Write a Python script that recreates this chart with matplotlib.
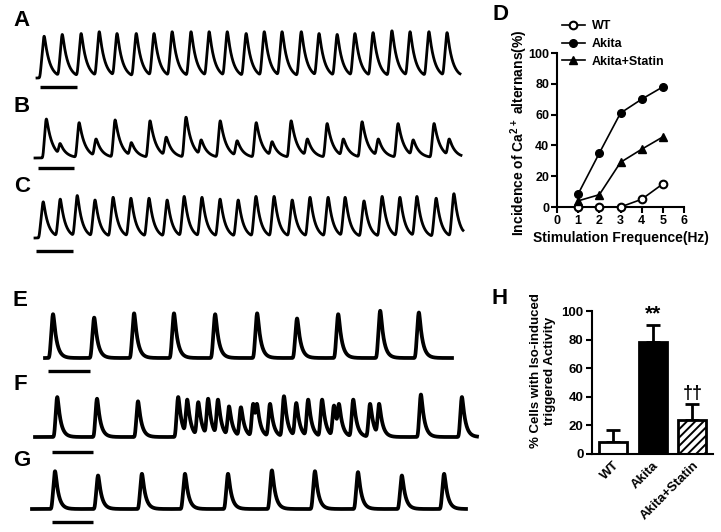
"""
Ca2+ transient traces (A-C, E-G), alternans incidence vs. frequency (D)
and Iso-induced triggered activity (H).
"""
import matplotlib
matplotlib.use('Agg')
import matplotlib.pyplot as plt
import numpy as np

plt.rcParams['font.family'] = ['Liberation Sans', 'DejaVu Sans']
plt.rcParams['font.weight'] = 'bold'
plt.rcParams['axes.labelweight'] = 'bold'
plt.rcParams['mathtext.fontset'] = 'custom'
plt.rcParams['mathtext.bf'] = 'Liberation Sans:bold'
plt.rcParams['mathtext.rm'] = 'Liberation Sans:bold'
plt.rcParams['mathtext.default'] = 'bf'
plt.rcParams['hatch.linewidth'] = 1.4

W, H = 721, 532

# ─── data ───────────────────────────────────────────────────────────────────
# traces: peak times (s) and peak amplitudes (arbitrary fluorescence units)
A_TIMES = [0.19, 0.68, 1.19, 1.68, 2.16, 2.68, 3.16, 3.65, 4.16, 4.65, 5.14, 5.65,
           6.14, 6.62, 7.14, 7.62, 8.11, 8.59, 9.08, 9.59, 10.08, 10.59, 11.08]
A_AMPS = [46, 48, 49, 51, 49, 49, 49, 51, 51, 51, 51, 49,
          51, 51, 51, 49, 48, 49, 50, 52, 51, 51, 50]

B_TIMES = [0.31, 0.69, 1.22, 1.69, 2.22, 2.67, 3.19, 3.64, 4.19, 4.61, 5.14, 5.61,
           6.14, 6.58, 7.11, 7.56, 8.11, 8.56, 9.08, 9.53, 10.08, 10.50, 11.08, 11.50]
B_AMPS = [43, 16, 39, 21, 42, 17, 41, 23, 45, 20, 41, 19,
          39, 18, 41, 21, 38, 21, 40, 21, 38, 20, 38, 21]

C_TIMES = [0.22, 0.68, 1.14, 1.62, 2.11, 2.59, 3.08, 3.57, 4.03, 4.51, 5.00, 5.49,
           5.97, 6.46, 6.95, 7.43, 7.92, 8.38, 8.89, 9.38, 9.86, 10.32, 10.84, 11.32]
C_AMPS = [40, 43, 47, 42, 45, 44, 44, 42, 46, 45, 43, 42,
          46, 46, 42, 45, 45, 45, 41, 46, 45, 46, 44, 49]

E_TIMES = [0.19, 1.17, 2.12, 3.07, 4.05, 5.05, 6.00, 6.98, 7.98, 8.90]
E_AMPS = [51, 47, 52, 52, 51, 52, 46, 51, 55, 53]

F_TIMES = [0.54, 1.51, 2.51, 3.49, 3.71, 3.98, 4.22, 4.46, 4.73, 5.02, 5.32, 5.41,
           5.73, 6.07, 6.37, 6.66, 7.00, 7.29, 7.41, 7.76, 8.17, 8.39, 9.41, 10.41]
F_AMPS = [47, 45, 42, 47, 44, 41, 45, 44, 36, 35, 39, 39,
          39, 48, 40, 44, 44, 37, 39, 44, 39, 39, 50, 47]

G_TIMES = [0.56, 1.61, 2.68, 3.73, 4.78, 5.85, 6.90, 7.95, 9.02, 10.05]
G_AMPS = [44, 39, 41, 41, 41, 45, 44, 43, 39, 41]

# panel D
FREQ = [1, 2, 3, 4, 5]
WT_ALT = [0, 0, 0, 5, 15]
AKITA_ALT = [8.5, 35, 61, 70, 78]
STATIN_ALT = [4, 8, 29, 37.5, 45.5]

# panel H
GROUPS = ['WT', 'Akita', 'Akita+Statin']
TRIG = [8.5, 78.5, 23.5]
TRIG_ERR = [8.2, 12.0, 11.8]


# ─── layout (pixels) ────────────────────────────────────────────────────────
# name: x_start, x_end, baseline_y, px_per_s, bar_x, bar_y, rise, tau, lw
TRACE_LAYOUT = {
    'A': (37, 460, 78, 37, 40, 87, 0.11, 0.14, 2.0),
    'B': (35, 461, 158, 36, 38, 168, 0.09, 0.16, 2.0),
    'C': (35, 463, 238, 37, 36, 251, 0.11, 0.13, 2.0),
    'E': (45, 452, 358, 42, 48, 371, 0.08, 0.08, 2.7),
    'F': (35, 477, 437, 41, 52, 452, 0.07, 0.08, 2.7),
    'G': (32, 466, 509, 41, 52, 522, 0.08, 0.08, 2.7),
}
TRACE_DATA = {
    'A': (A_TIMES, A_AMPS), 'B': (B_TIMES, B_AMPS), 'C': (C_TIMES, C_AMPS),
    'E': (E_TIMES, E_AMPS), 'F': (F_TIMES, F_AMPS), 'G': (G_TIMES, G_AMPS),
}
LABEL_POS = {'A': (22, 21), 'B': (22, 107), 'C': (22, 187), 'D': (500, 14),
             'E': (20, 301), 'F': (20, 384), 'G': (22, 460), 'H': (500, 299)}


def px_rect(x0, y_top, x1, y_bot):
    return [x0 / W, 1 - y_bot / H, (x1 - x0) / W, (y_bot - y_top) / H]


def transient_trace(t, times, amps, rise, tau):
    """Each transient: linear upstroke, exponential decay; overlap by max,
    then a light smoothing so the tops come out rounded."""
    y = np.zeros_like(t)
    for t0, a in zip(times, amps):
        dt = t - (t0 - rise)
        shape = np.where(dt < 0, 0.0,
                         np.where(dt < rise, dt / rise, np.exp(-(dt - rise) / tau)))
        y = np.maximum(y, a * shape)
    step = t[1] - t[0]
    k = np.exp(-0.5 * (np.arange(-40, 41) * step / 0.015) ** 2)
    k /= k.sum()
    return np.convolve(np.pad(y, 40, mode='edge'), k, mode='valid')


fig = plt.figure(figsize=(W / 100, H / 100), dpi=100)

# ─── traces ─────────────────────────────────────────────────────────────────
for name, (x0, x1, yb, pps, bx, by, rise, tau, lw) in TRACE_LAYOUT.items():
    times, amps = TRACE_DATA[name]
    amax = max(amps)
    ax = fig.add_axes(px_rect(x0, yb - amax, x1, yb))
    dur = (x1 - x0) / pps
    t = np.linspace(0, dur, 3000)
    ax.plot(t, transient_trace(t, times, amps, rise, tau), color='black',
            lw=lw, solid_joinstyle='round', clip_on=False)
    bar_t = (bx - x0) / pps
    ax.plot([bar_t, bar_t + 1.0], [-(by - yb)] * 2, color='black', lw=2.4,
            solid_capstyle='butt', clip_on=False)
    ax.set_xlim(0, dur)
    ax.set_ylim(0, amax)
    ax.axis('off')

# ─── panel D ────────────────────────────────────────────────────────────────
axd = fig.add_axes(px_rect(557, 53, 684, 207))
mk = dict(color='black', lw=1.2, ms=5.5, clip_on=False, zorder=3)
axd.plot(FREQ, WT_ALT, marker='o', mfc='white', mew=1.5, label='WT', **mk)
axd.plot(FREQ, AKITA_ALT, marker='o', label='Akita', **mk)
axd.plot(FREQ, STATIN_ALT, marker='^', label='Akita+Statin', **mk)
axd.set_xlim(0, 6)
axd.set_ylim(0, 100)
axd.set_xticks(range(7))
axd.set_yticks(range(0, 101, 20))
axd.spines[['top', 'right']].set_visible(False)
for s in axd.spines.values():
    s.set_linewidth(1.5)
axd.tick_params(width=1.5, length=4, labelsize=9, pad=1.5)
axd.set_xlabel('Stimulation Frequence(Hz)', fontsize=10, labelpad=3)
axd.set_ylabel('Incidence of Ca$^{2+}$ alternans(%)', fontsize=10)
axd.yaxis.set_label_coords(-0.215, 0.48)
axd.legend(loc='upper left', bbox_to_anchor=(0.0, 1.245), frameon=False,
           fontsize=9, handlelength=1.8, labelspacing=0.45, borderaxespad=0,
           handletextpad=0.6)

# ─── panel H ────────────────────────────────────────────────────────────────
axh = fig.add_axes(px_rect(592, 311, 713, 454))
xpos = np.arange(len(GROUPS))
bars = axh.bar(xpos, TRIG, width=0.7, color=['white', 'black', 'white'],
               edgecolor='black', linewidth=2, zorder=2)
bars[2].set_hatch('////')
axh.errorbar(xpos, TRIG, yerr=[np.zeros(len(TRIG)), TRIG_ERR], fmt='none',
             ecolor='black', elinewidth=2, capsize=5, capthick=2, zorder=1)
axh.text(xpos[1], TRIG[1] + TRIG_ERR[1] + 1, '**', ha='center', va='bottom',
         fontsize=15)
axh.text(xpos[2], TRIG[2] + TRIG_ERR[2] + 1, '††', ha='center', va='bottom',
         fontsize=13)
axh.set_xlim(-0.53, 2.52)
axh.set_ylim(0, 100)
axh.set_yticks(range(0, 101, 20))
axh.set_xticks(xpos)
axh.set_xticklabels(GROUPS, rotation=45, ha='right', rotation_mode='anchor')
axh.spines[['top', 'right']].set_visible(False)
for s in axh.spines.values():
    s.set_linewidth(1.5)
axh.tick_params(axis='y', width=1.5, length=4, labelsize=9.5, pad=2)
axh.tick_params(axis='x', length=0, labelsize=9.5, pad=4)
axh.set_ylabel('% Cells with Iso-induced\ntriggered Activity', fontsize=9.5,
               linespacing=1.15)
axh.yaxis.set_label_coords(-0.3, 0.58)

# ─── panel labels ───────────────────────────────────────────────────────────
for lab, (x, y) in LABEL_POS.items():
    fig.text(x / W, 1 - y / H, lab, ha='center', va='center', fontsize=16,
             weight='bold')

fig.savefig('out.png', dpi=100)
